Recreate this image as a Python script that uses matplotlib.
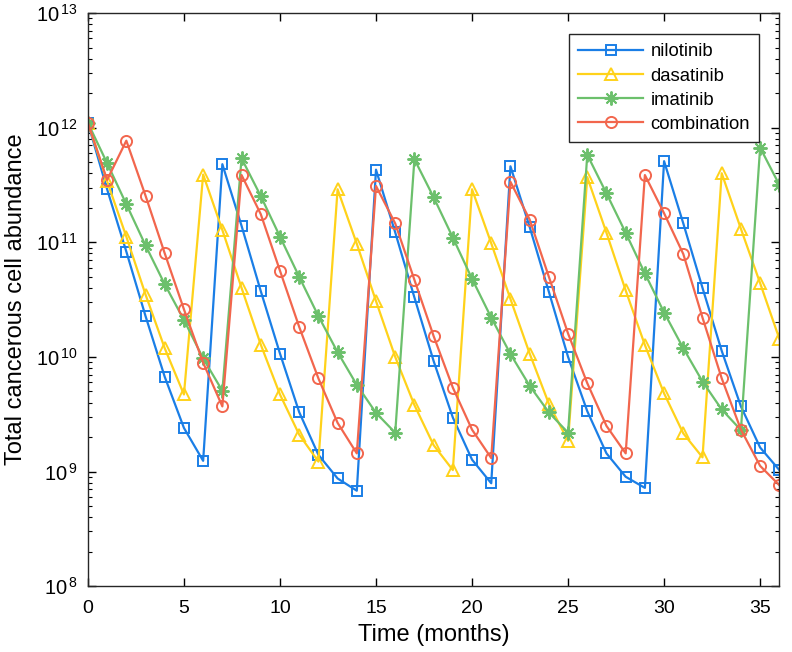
import numpy as np
import matplotlib
matplotlib.use("Agg")
import matplotlib.pyplot as plt
from matplotlib.ticker import LogLocator, MultipleLocator, NullFormatter, FuncFormatter

plt.rcParams['font.family'] = ['Liberation Sans', 'DejaVu Sans']
plt.rcParams['mathtext.fontset'] = 'custom'
plt.rcParams['mathtext.rm'] = 'Liberation Sans'

# months
months = list(range(37))

nilotinib = [1.1e12, 2.9e11, 8.3e10, 2.27e10, 6.7e9, 2.4e9, 1.24e9,
             4.8e11, 1.39e11, 3.75e10, 1.07e10, 3.3e9, 1.4e9, 8.7e8, 6.8e8,
             4.3e11, 1.22e11, 3.3e10, 9.2e9, 2.96e9, 1.27e9, 7.9e8,
             4.6e11, 1.36e11, 3.7e10, 1.0e10, 3.36e9, 1.44e9, 9.0e8, 7.2e8,
             5.1e11, 1.46e11, 4.0e10, 1.13e10, 3.7e9, 1.62e9, 1.03e9]

dasatinib = [1.1e12, 3.4e11, 1.12e11, 3.5e10, 1.19e10, 4.7e9,
             3.9e11, 1.28e11, 4.0e10, 1.28e10, 4.7e9, 2.1e9, 1.22e9,
             2.9e11, 9.7e10, 3.07e10, 1.0e10, 3.8e9, 1.7e9, 1.03e9,
             2.9e11, 9.8e10, 3.2e10, 1.07e10, 3.9e9, 1.85e9,
             3.7e11, 1.21e11, 3.8e10, 1.27e10, 4.8e9, 2.15e9, 1.33e9,
             4.0e11, 1.31e11, 4.4e10, 1.44e10]

imatinib = [1.1e12, 4.9e11, 2.15e11, 9.4e10, 4.3e10, 2.1e10, 9.7e9, 5.06e9,
            5.4e11, 2.53e11, 1.12e11, 5.0e10, 2.27e10, 1.1e10, 5.7e9, 3.25e9, 2.18e9,
            5.3e11, 2.47e11, 1.1e11, 4.8e10, 2.2e10, 1.06e10, 5.6e9, 3.28e9, 2.18e9,
            5.8e11, 2.67e11, 1.21e11, 5.35e10, 2.44e10, 1.19e10, 6.1e9, 3.48e9, 2.3e9,
            6.7e11, 3.17e11]

combination = [1.1e12, 3.5e11, 7.7e11, 2.55e11, 8.0e10, 2.6e10, 8.9e9, 3.7e9,
               3.86e11, 1.76e11, 5.65e10, 1.83e10, 6.5e9, 2.66e9, 1.44e9,
               3.1e11, 1.46e11, 4.7e10, 1.52e10, 5.4e9, 2.32e9, 1.31e9,
               3.37e11, 1.58e11, 5.0e10, 1.6e10, 5.9e9, 2.5e9, 1.44e9,
               3.86e11, 1.79e11, 7.9e10, 2.2e10, 6.5e9, 2.32e9, 1.12e9, 7.6e8]

series = [
    ("nilotinib", nilotinib, "#1a7ee6", "s", 7.5),
    ("dasatinib", dasatinib, "#ffd21a", "^", 8.5),
    ("imatinib", imatinib, "#6cc06c", (8, 2, 0), 10),
    ("combination", combination, "#f2664d", "o", 8),
]

fig = plt.figure(figsize=(7.92, 6.52), dpi=100)
ax = fig.add_axes([0.111, 0.101, 0.873, 0.879])

for name, vals, color, mk, ms in series:
    ax.plot(months, vals, color=color, lw=1.6, marker=mk, markersize=ms,
            markerfacecolor="none", markeredgewidth=1.4, label=name)

ax.set_yscale("log")
ax.set_xlim(0, 36)
ax.set_ylim(1e8, 1e13)
ax.xaxis.set_major_locator(MultipleLocator(5))
ax.yaxis.set_major_locator(LogLocator(base=10, numticks=10))
ax.yaxis.set_major_formatter(FuncFormatter(
    lambda v, pos: "$\\mathdefault{10^{\\,%d}}$" % round(np.log10(v))))
ax.yaxis.set_minor_locator(LogLocator(base=10, subs=np.arange(2, 10), numticks=10))
ax.yaxis.set_minor_formatter(NullFormatter())
ax.tick_params(which="both", direction="in", top=True, right=True)
ax.tick_params(axis="x", labelsize=14, pad=10)
ax.tick_params(axis="y", labelsize=14.5, pad=7)
ax.tick_params(which="major", length=6, width=1)
ax.tick_params(which="minor", length=3, width=0.8)
for sp in ax.spines.values():
    sp.set_linewidth(1)
    sp.set_color("#262626")

ax.set_xlabel("Time (months)", fontsize=17, labelpad=5)
ax.set_ylabel("Total cancerous cell abundance", fontsize=17, labelpad=7)

leg = ax.legend(loc="upper right", bbox_to_anchor=(0.971, 0.963), borderaxespad=0,
                fontsize=13.3, fancybox=False, framealpha=1, edgecolor="#262626",
                handlelength=3.5, handletextpad=0.4, borderpad=0.5,
                labelspacing=0.38)
leg.get_frame().set_linewidth(1)

fig.savefig("out.png", dpi=100)
